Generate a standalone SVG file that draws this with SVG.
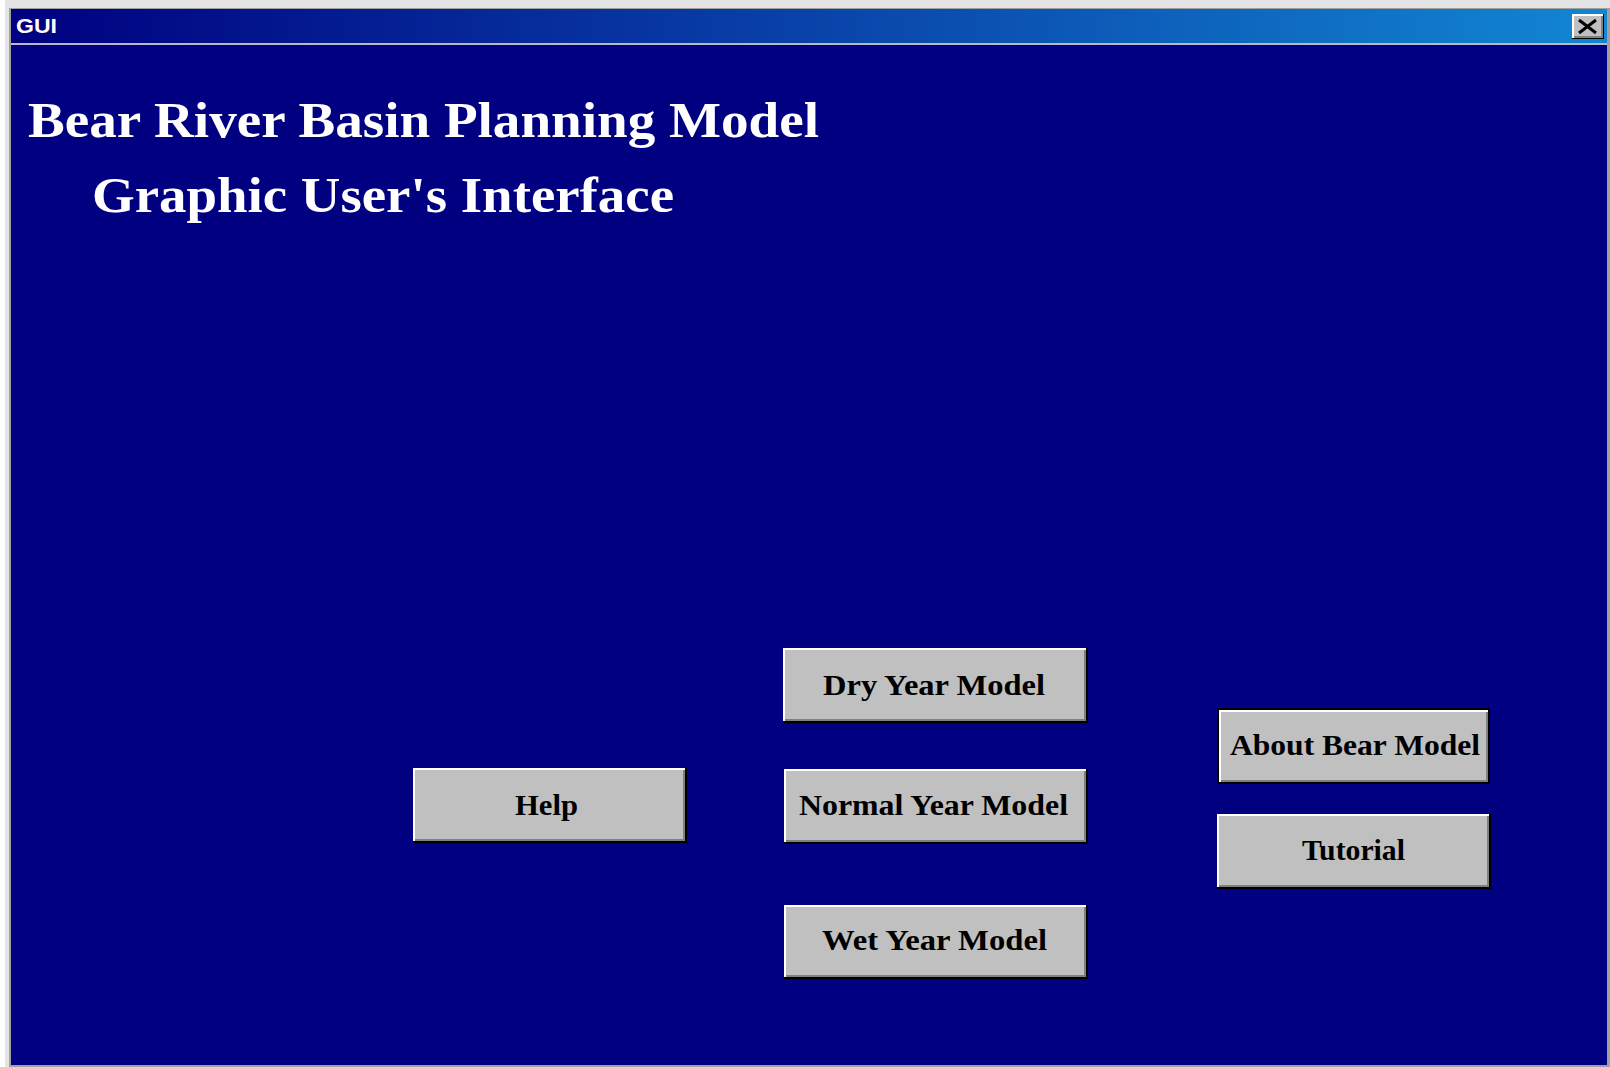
<svg xmlns="http://www.w3.org/2000/svg" width="1610" height="1067" viewBox="0 0 1610 1067">
  <defs>
    <linearGradient id="caption" x1="0" y1="0" x2="1" y2="0">
      <stop offset="0" stop-color="#000080"/>
      <stop offset="1" stop-color="#1286d2"/>
    </linearGradient>
  </defs>
  <style>
    .face { fill: #c0c0c0; }
    .hi { fill: #ffffff; }
    .sh { fill: #808080; }
    .dk { fill: #000000; }
    .lbl { font-family: "Liberation Serif", "Times New Roman", serif; font-weight: bold; font-size: 30px; fill: #000000; text-anchor: start; }
    .head { font-family: "Liberation Serif", "Times New Roman", serif; font-weight: bold; font-size: 50px; fill: #ffffff; }
  </style>

  <!-- window frame -->
  <rect x="0" y="0" width="1610" height="1067" fill="#ffffff"/>
  <rect x="5" y="0" width="1605" height="1067" fill="#e4e4e4"/>
  <rect x="9" y="8" width="1601" height="1059" fill="#a0a0a0"/>
  <rect x="11" y="45" width="1596" height="1020" fill="#000080"/>

  <!-- caption bar -->
  <g id="titlebar">
    <rect x="11" y="9" width="1596" height="34" fill="url(#caption)"/>
    <rect x="11" y="43" width="1596" height="2" fill="#b8b8c8"/>
    <text x="16" y="33" font-family="'Liberation Sans', Arial, sans-serif" font-weight="bold" font-size="21" fill="#ffffff" textLength="41" lengthAdjust="spacingAndGlyphs">GUI</text>
  </g>

  <!-- close box -->
  <g id="close-button">
    <rect x="1572" y="14" width="32" height="25" class="dk"/>
    <rect x="1572" y="14" width="31" height="24" class="hi"/>
    <rect x="1574" y="16" width="29" height="22" class="sh"/>
    <rect x="1574" y="16" width="27" height="20" class="face"/>
    <path d="M1579 20 L1596 33 M1596 20 L1579 33" stroke="#000000" stroke-width="3" fill="none"/>
  </g>

  <!-- heading -->
  <g id="heading">
    <text class="head" x="28" y="137" textLength="791" lengthAdjust="spacingAndGlyphs">Bear River Basin Planning Model</text>
    <text class="head" x="92" y="212" textLength="582" lengthAdjust="spacingAndGlyphs">Graphic User's Interface</text>
  </g>

  <!-- buttons: outer black, gray shadow, white highlight, face -->
  <g id="btn-dry">
    <rect x="783" y="648" width="305" height="75" class="dk"/>
    <rect x="783" y="648" width="303" height="73" class="hi"/>
    <rect x="785" y="650" width="301" height="71" class="sh"/>
    <rect x="785" y="650" width="299" height="69" class="face"/>
    <text class="lbl" x="823" y="695" textLength="222" lengthAdjust="spacingAndGlyphs">Dry Year Model</text>
  </g>

  <g id="btn-help">
    <rect x="413" y="768" width="274" height="75" class="dk"/>
    <rect x="413" y="768" width="272" height="73" class="hi"/>
    <rect x="415" y="770" width="270" height="71" class="sh"/>
    <rect x="415" y="770" width="268" height="69" class="face"/>
    <text class="lbl" x="515" y="815" textLength="63" lengthAdjust="spacingAndGlyphs">Help</text>
  </g>

  <g id="btn-normal">
    <rect x="784" y="769" width="304" height="75" class="dk"/>
    <rect x="784" y="769" width="302" height="73" class="hi"/>
    <rect x="786" y="771" width="300" height="71" class="sh"/>
    <rect x="786" y="771" width="298" height="69" class="face"/>
    <text class="lbl" x="799" y="815" textLength="269" lengthAdjust="spacingAndGlyphs">Normal Year Model</text>
  </g>

  <g id="btn-wet">
    <rect x="784" y="905" width="304" height="74" class="dk"/>
    <rect x="784" y="905" width="302" height="72" class="hi"/>
    <rect x="786" y="907" width="300" height="70" class="sh"/>
    <rect x="786" y="907" width="298" height="68" class="face"/>
    <text class="lbl" x="822" y="950" textLength="225" lengthAdjust="spacingAndGlyphs">Wet Year Model</text>
  </g>

  <g id="btn-about">
    <rect x="1217" y="708" width="273" height="76" class="dk"/>
    <rect x="1219" y="710" width="269" height="72" class="hi"/>
    <rect x="1221" y="712" width="267" height="70" class="sh"/>
    <rect x="1221" y="712" width="265" height="68" class="face"/>
    <text class="lbl" x="1230" y="755" textLength="250" lengthAdjust="spacingAndGlyphs">About Bear Model</text>
  </g>

  <g id="btn-tutorial">
    <rect x="1217" y="814" width="274" height="75" class="dk"/>
    <rect x="1217" y="814" width="272" height="73" class="hi"/>
    <rect x="1219" y="816" width="270" height="71" class="sh"/>
    <rect x="1219" y="816" width="268" height="69" class="face"/>
    <text class="lbl" x="1302" y="860" textLength="103" lengthAdjust="spacingAndGlyphs">Tutorial</text>
  </g>
</svg>
